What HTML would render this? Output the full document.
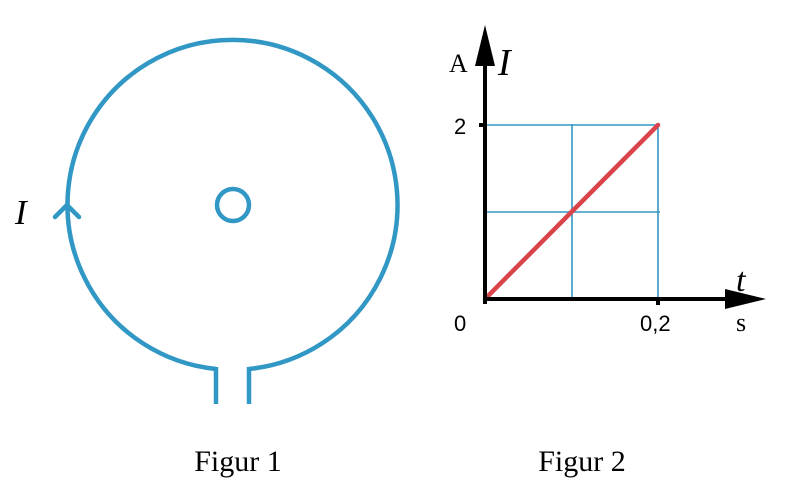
<!DOCTYPE html>
<html><head><style>body{margin:0;background:#fff}svg{display:block}</style></head>
<body>
<svg width="788" height="486" viewBox="0 0 788 486" xmlns="http://www.w3.org/2000/svg">
<g fill="none" stroke="#3197c4" stroke-width="4.5" stroke-linecap="butt">
<path d="M216,369 A165,165 0 1 1 249,369"/>
<line x1="216" y1="367" x2="216" y2="404"/>
<line x1="249" y1="367" x2="249" y2="404"/>
<circle cx="233" cy="205" r="16"/>
<polyline points="55,217 67,205 79,217" stroke-linecap="round" stroke-linejoin="round"/>
</g>
<text x="15" y="224" font-family="Liberation Serif, serif" font-style="italic" font-size="35">I</text>
<text x="238" y="471" text-anchor="middle" font-family="Liberation Serif, serif" font-size="30">Figur 1</text>
<text x="582" y="471" text-anchor="middle" font-family="Liberation Serif, serif" font-size="30">Figur 2</text>
<g stroke="#3197c4" stroke-width="1.6">
<line x1="485" y1="125" x2="658" y2="125"/>
<line x1="485" y1="212" x2="660" y2="212"/>
<line x1="572" y1="124" x2="572" y2="299"/>
<line x1="658" y1="124" x2="658" y2="299"/>
</g>
<line x1="485" y1="299" x2="658" y2="125" stroke="#d9434a" stroke-width="4.5" stroke-linecap="round"/>
<g stroke="#000" stroke-width="4">
<line x1="485" y1="60" x2="485" y2="304"/>
<line x1="483" y1="299" x2="730" y2="299"/>
<line x1="479" y1="125" x2="485" y2="125"/>
<line x1="658" y1="299" x2="658" y2="305"/>
</g>
<polygon points="485,25 475,66 495,66" fill="#000"/>
<polygon points="766,299 725,289 725,309" fill="#000"/>
<text x="449" y="72" font-family="Liberation Serif, serif" font-size="26">A</text>
<text x="498" y="75" font-family="Liberation Serif, serif" font-style="italic" font-size="38">I</text>
<text x="736" y="291" font-family="Liberation Serif, serif" font-style="italic" font-size="34">t</text>
<text x="736" y="331" font-family="Liberation Serif, serif" font-size="26">s</text>
<g font-family="Liberation Sans, sans-serif" font-size="22">
<text x="454" y="134">2</text>
<text x="454" y="331">0</text>
<text x="640" y="331">0,2</text>
</g>
</svg>
</body></html>
